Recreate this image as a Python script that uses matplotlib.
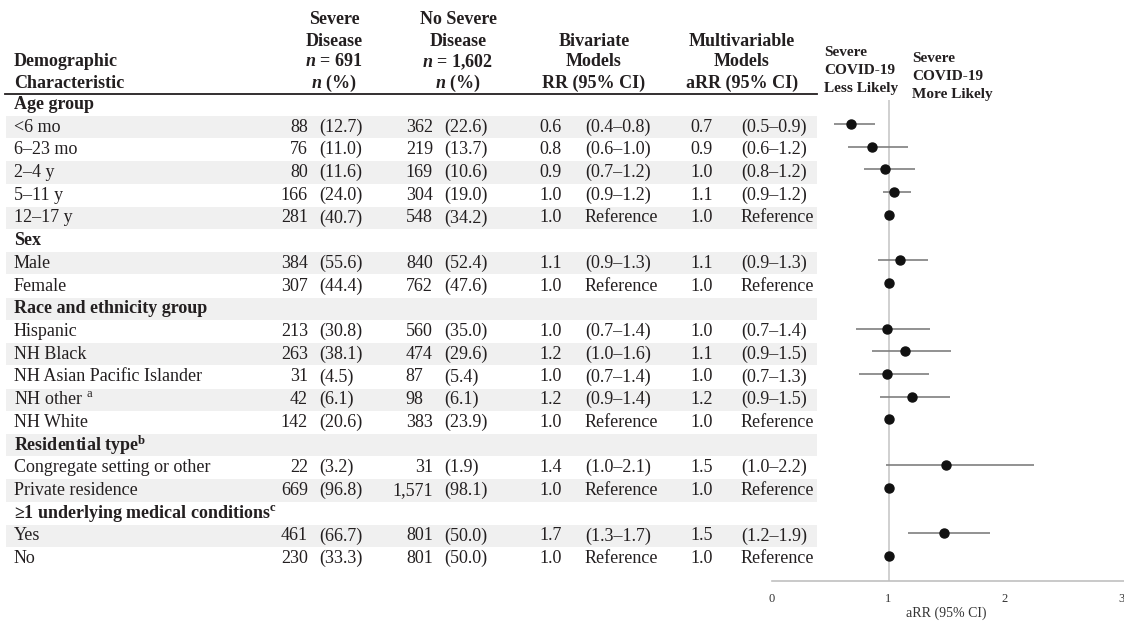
import numpy as np
import matplotlib
matplotlib.use("Agg")
import matplotlib.pyplot as plt
from matplotlib.patches import Rectangle

plt.rcParams["font.family"] = ["Liberation Serif", "DejaVu Serif"]
plt.rcParams["mathtext.fontset"] = "custom"
plt.rcParams["mathtext.rm"] = "Liberation Serif"
plt.rcParams["mathtext.it"] = "Liberation Serif:italic"
plt.rcParams["mathtext.bf"] = "Liberation Serif:bold"
plt.rcParams["mathtext.bfit"] = "Liberation Serif:italic:bold"

# ---- table data ----
labels = ["Age group", "<6 mo", "6–23 mo", "2–4 y", "5–11 y", "12–17 y",
          "Sex", "Male", "Female",
          "Race and ethnicity group", "Hispanic", "NH Black", "NH Asian Pacific Islander",
          r"NH other $^{\rm a}$", "NH White",
          r"Residential type$^{\mathbf{b}}$", "Congregate setting or other", "Private residence",
          r"≥1 underlying medical conditions$^{\mathbf{c}}$", "Yes", "No"]
is_group = [True, False, False, False, False, False,
            True, False, False,
            True, False, False, False, False, False,
            True, False, False,
            True, False, False]

severe_n = ["88", "76", "80", "166", "281", "384", "307", "213", "263", "31", "42", "142",
            "22", "669", "461", "230"]
severe_pct = ["12.7", "11.0", "11.6", "24.0", "40.7", "55.6", "44.4", "30.8", "38.1", "4.5",
              "6.1", "20.6", "3.2", "96.8", "66.7", "33.3"]
nosev_n = ["362", "219", "169", "304", "548", "840", "762", "560", "474", "87", "98", "383",
           "31", "1,571", "801", "801"]
nosev_pct = ["22.6", "13.7", "10.6", "19.0", "34.2", "52.4", "47.6", "35.0", "29.6", "5.4",
             "6.1", "23.9", "1.9", "98.1", "50.0", "50.0"]
rr = ["0.6", "0.8", "0.9", "1.0", "1.0", "1.1", "1.0", "1.0", "1.2", "1.0", "1.2", "1.0",
      "1.4", "1.0", "1.7", "1.0"]
rr_ci = ["0.4–0.8", "0.6–1.0", "0.7–1.2", "0.9–1.2", None, "0.9–1.3", None, "0.7–1.4",
         "1.0–1.6", "0.7–1.4", "0.9–1.4", None, "1.0–2.1", None, "1.3–1.7", None]
arr = ["0.7", "0.9", "1.0", "1.1", "1.0", "1.1", "1.0", "1.0", "1.1", "1.0", "1.2", "1.0",
       "1.5", "1.0", "1.5", "1.0"]
arr_ci = ["0.5–0.9", "0.6–1.2", "0.8–1.2", "0.9–1.2", None, "0.9–1.3", None, "0.7–1.4",
          "0.9–1.5", "0.7–1.3", "0.9–1.5", None, "1.0–2.2", None, "1.2–1.9", None]

# forest plot values (aRR and 95% CI)
est = [0.68, 0.86, 0.97, 1.05, 1.0, 1.10, 1.0, 0.99, 1.14, 0.99, 1.20, 1.0, 1.49, 1.0, 1.48, 1.0]
lo = [0.53, 0.65, 0.79, 0.95, np.nan, 0.91, np.nan, 0.72, 0.86, 0.75, 0.93, np.nan, 0.98,
      np.nan, 1.17, np.nan]
hi = [0.88, 1.17, 1.23, 1.19, np.nan, 1.34, np.nan, 1.36, 1.54, 1.35, 1.53, np.nan, 2.25,
      np.nan, 1.87, np.nan]

# ---- layout (pixels) ----
W, H = 1124, 624
ROW0, ROWH = 104.3, 22.72
FS = 13
TXT = "#231f20"
LX = 14  # left edge of the label column
# in the original, 87 and 98 sit flush left, the other counts flush right
LEFT_FLUSH = {9, 10}

fig = plt.figure(figsize=(W / 100, H / 100), dpi=100)
ax = fig.add_axes([0, 0, 1, 1])
ax.set_xlim(0, W)
ax.set_ylim(H, 0)
ax.axis("off")

def row_y(i):
    return ROW0 + i * ROWH

# shaded bands on every other row
for i in range(len(labels)):
    if i % 2 == 1:
        ax.add_patch(Rectangle((6, row_y(i) - ROWH / 2 + 0.3), 811, ROWH - 0.6,
                               facecolor="#f0f0f0", edgecolor="none", zorder=0))

# header
hdr = dict(fontsize=FS, fontweight="bold", color=TXT, va="center")
ax.text(LX, 62, "Demographic", ha="left", **hdr)
ax.text(LX, 83, "Characteristic", ha="left", **hdr)
for x, lines in [(334, ["Severe", "Disease", r"$\mathbfit{n}$ = 691", r"$\mathbfit{n}$ (%)"]),
                 (458, ["No Severe", "Disease", r"$\mathbfit{n}$ = 1,602", r"$\mathbfit{n}$ (%)"]),
                 (594, ["Bivariate", "Models", "RR (95% CI)"]),
                 (742, ["Multivariable", "Models", "aRR (95% CI)"])]:
    for k, s in enumerate(lines[::-1]):
        ax.text(x, 83 - k * 21, s, ha="center", **hdr)
ax.plot([5, 817], [93.5, 93.5], color=TXT, lw=1.3)

small = dict(fontsize=11, fontweight="bold", color=TXT, va="center", ha="left")
for k, s in enumerate(["Severe", "COVID-19", "Less Likely"]):
    ax.text(824, 52 + k * 18.3, s, **small)
for k, s in enumerate(["Severe", "COVID-19", "More Likely"]):
    ax.text(912, 58 + k * 18.3, s, **small)

# body
cell = dict(fontsize=FS, color=TXT, va="center")
j = 0
for i, lab in enumerate(labels):
    y = row_y(i)
    if is_group[i]:
        ax.text(LX, y, lab, fontweight="bold", ha="left", **cell)
        continue
    ax.text(LX, y, lab, ha="left", **cell)
    ax.text(308, y, severe_n[j], ha="right", **cell)
    ax.text(319, y, "(" + severe_pct[j] + ")", ha="left", **cell)
    if j in LEFT_FLUSH:
        ax.text(405, y, nosev_n[j], ha="left", **cell)
    else:
        ax.text(433, y, nosev_n[j], ha="right", **cell)
    ax.text(444, y, "(" + nosev_pct[j] + ")", ha="left", **cell)
    ax.text(539, y, rr[j], ha="left", **cell)
    ax.text(585, y, "Reference" if rr_ci[j] is None else "(" + rr_ci[j] + ")", ha="left", **cell)
    ax.text(690, y, arr[j], ha="left", **cell)
    ax.text(741, y, "Reference" if arr_ci[j] is None else "(" + arr_ci[j] + ")", ha="left", **cell)
    j += 1

# ---- forest plot ----
fy = [i for i in range(len(labels)) if not is_group[i]]
top_px, bot_px, left_px = 100, 581, 772
fax = fig.add_axes([left_px / W, 1 - bot_px / H, (W - left_px) / W, (bot_px - top_px) / H])
fax.patch.set_alpha(0)
unit = 116.5
fax.set_xlim(0, (W - left_px) / unit)
r_top = (top_px - (ROW0 - 3)) / ROWH
r_bot = (bot_px - (ROW0 - 3)) / ROWH
fax.set_ylim(r_bot, r_top)
fax.axvline(1, color="#c8c8c8", lw=1.2, zorder=1)
fax.hlines(fy, lo, hi, color="#7f7f7f", lw=1.2, zorder=2)
fax.plot(est, fy, "o", color="#111111", ms=6.5, zorder=3)
for s in ["top", "right", "left"]:
    fax.spines[s].set_visible(False)
fax.spines["bottom"].set_color("#c0c0c0")
fax.spines["bottom"].set_linewidth(1.2)
fax.set_yticks([])
fax.set_xticks([0, 1, 2, 3])
fax.tick_params(axis="x", length=0, pad=9, labelsize=9, labelcolor="#333333")
fax.set_xlabel("aRR (95% CI)", fontsize=10, color="#333333")
fax.xaxis.set_label_coords((946 - left_px) / (W - left_px), -(613 - bot_px) / (bot_px - top_px))
fax.xaxis.label.set_va("center")

fig.savefig("out.png", dpi=100)
